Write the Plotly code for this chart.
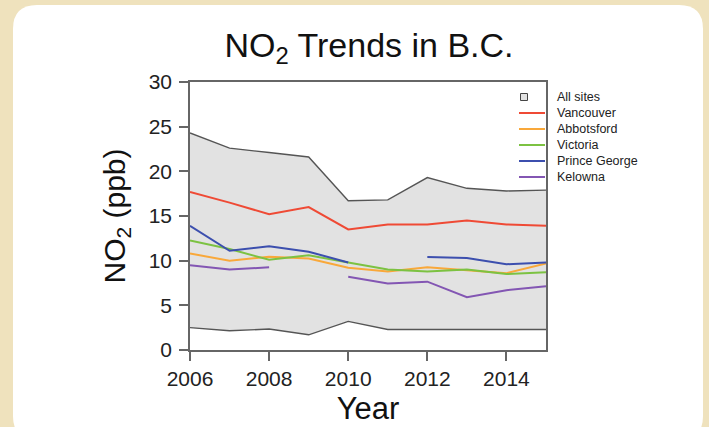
import plotly.graph_objects as go

years = list(range(2006, 2016))
all_max = [24.3, 22.6, 22.1, 21.6, 16.7, 16.8, 19.3, 18.1, 17.8, 17.9]
all_min = [2.5, 2.15, 2.35, 1.7, 3.2, 2.3, 2.3, 2.3, 2.3, 2.3]
vancouver = [17.7, 16.5, 15.2, 16.0, 13.5, 14.05, 14.05, 14.5, 14.05, 13.9]
abbotsford = [10.8, 10.0, 10.45, 10.25, 9.2, 8.8, 9.25, 8.95, 8.6, 9.7]
victoria = [12.25, 11.3, 10.1, 10.6, 9.8, 9.0, 8.8, 9.0, 8.5, 8.7]
prince_george = [13.9, 11.1, 11.6, 11.0, 9.8, None, 10.4, 10.3, 9.6, 9.8]
kelowna = [9.5, 9.0, 9.25, None, 8.2, 7.45, 7.65, 5.9, 6.7, 7.15]

series_names = ["Vancouver", "Abbotsford", "Victoria", "Prince George", "Kelowna"]
series_values = [vancouver, abbotsford, victoria, prince_george, kelowna]
series_colors = ["#ef4a35", "#f9a83a", "#7cc242", "#3c4fae", "#8356b3"]

W, H = 709, 427
L, R, T, B = 190, 546, 82, 350
FONT = "Liberation Sans, Arial, sans-serif"
BG = "#efe2bd"


def px(x):
    return (x - L) / (R - L)


def py(y):
    return (B - y) / (B - T)


fig = go.Figure()
fig.add_trace(go.Scatter(x=years, y=all_min, mode="lines",
                         line=dict(color="#555555", width=1.4), showlegend=False))
fig.add_trace(go.Scatter(x=years, y=all_max, mode="lines", fill="tonexty",
                         fillcolor="#e2e2e2",
                         line=dict(color="#555555", width=1.4), showlegend=False))
for name, vals, col in zip(series_names, series_values, series_colors):
    fig.add_trace(go.Scatter(x=years, y=vals, mode="lines", name=name,
                             line=dict(color=col, width=2), showlegend=False))

shapes = []
# white rounded panel
x0, x1, y0, y1, r = 13, 703, 5, 440, 24
path = (f"M{px(x0 + r)},{py(y0)} L{px(x1 - r)},{py(y0)} Q{px(x1)},{py(y0)} {px(x1)},{py(y0 + r)} "
        f"L{px(x1)},{py(y1 - r)} Q{px(x1)},{py(y1)} {px(x1 - r)},{py(y1)} "
        f"L{px(x0 + r)},{py(y1)} Q{px(x0)},{py(y1)} {px(x0)},{py(y1 - r)} "
        f"L{px(x0)},{py(y0 + r)} Q{px(x0)},{py(y0)} {px(x0 + r)},{py(y0)} Z")
shapes.append(dict(type="path", xref="paper", yref="paper", path=path,
                   fillcolor="white", line=dict(width=0), layer="below"))

# manual legend
annotations = []
leg_y = [97, 113, 129, 145, 161, 177]
shapes.append(dict(type="rect", xref="paper", yref="paper",
                   x0=px(520.5), x1=px(527.5), y0=py(leg_y[0] + 3.5), y1=py(leg_y[0] - 3.5),
                   fillcolor="#e2e2e2", line=dict(color="#444444", width=1)))
annotations.append(dict(x=px(555), y=py(leg_y[0]), xref="paper", yref="paper",
                        text="All sites", showarrow=False, xanchor="left", yanchor="middle",
                        font=dict(family=FONT, size=12.5, color="#222222")))
for i, (name, col) in enumerate(zip(series_names, series_colors)):
    yy = leg_y[i + 1]
    shapes.append(dict(type="line", xref="paper", yref="paper",
                       x0=px(519), x1=px(545), y0=py(yy), y1=py(yy),
                       line=dict(color=col, width=2)))
    annotations.append(dict(x=px(555), y=py(yy), xref="paper", yref="paper",
                            text=name, showarrow=False, xanchor="left", yanchor="middle",
                            font=dict(family=FONT, size=12.5, color="#222222")))

axis_common = dict(showgrid=False, zeroline=False, showline=True, linecolor="#666666",
                   linewidth=1.5, mirror=True, ticks="outside", ticklen=9, tickwidth=1.5,
                   tickcolor="#666666", automargin=False,
                   tickfont=dict(family=FONT, size=21, color="#222222"))

fig.update_layout(
    width=W, height=H,
    margin=dict(l=L, r=W - R, t=T, b=H - B, autoexpand=False),
    paper_bgcolor=BG, plot_bgcolor="white",
    title=dict(text="NO<sub>2</sub> Trends in B.C.", x=369 / W, xanchor="center",
               y=1 - 45 / H, yanchor="middle", yref="container",
               font=dict(family=FONT, size=34, color="#111111")),
    xaxis=dict(range=[2006, 2015], tickvals=[2006, 2008, 2010, 2012, 2014],
               title=dict(text="Year", font=dict(family=FONT, size=31, color="#111111"), standoff=8),
               **axis_common),
    yaxis=dict(range=[0, 30], tickvals=[0, 5, 10, 15, 20, 25, 30], ticklabelstandoff=3,
               title=dict(text="NO<sub>2</sub> (ppb)", font=dict(family=FONT, size=30, color="#111111"),
                          standoff=14),
               **axis_common),
    shapes=shapes, annotations=annotations, showlegend=False,
)

fig.write_html("out.html", config={"displayModeBar": False},
               post_script=f"document.body.style.margin='0';document.body.style.background='{BG}';")
